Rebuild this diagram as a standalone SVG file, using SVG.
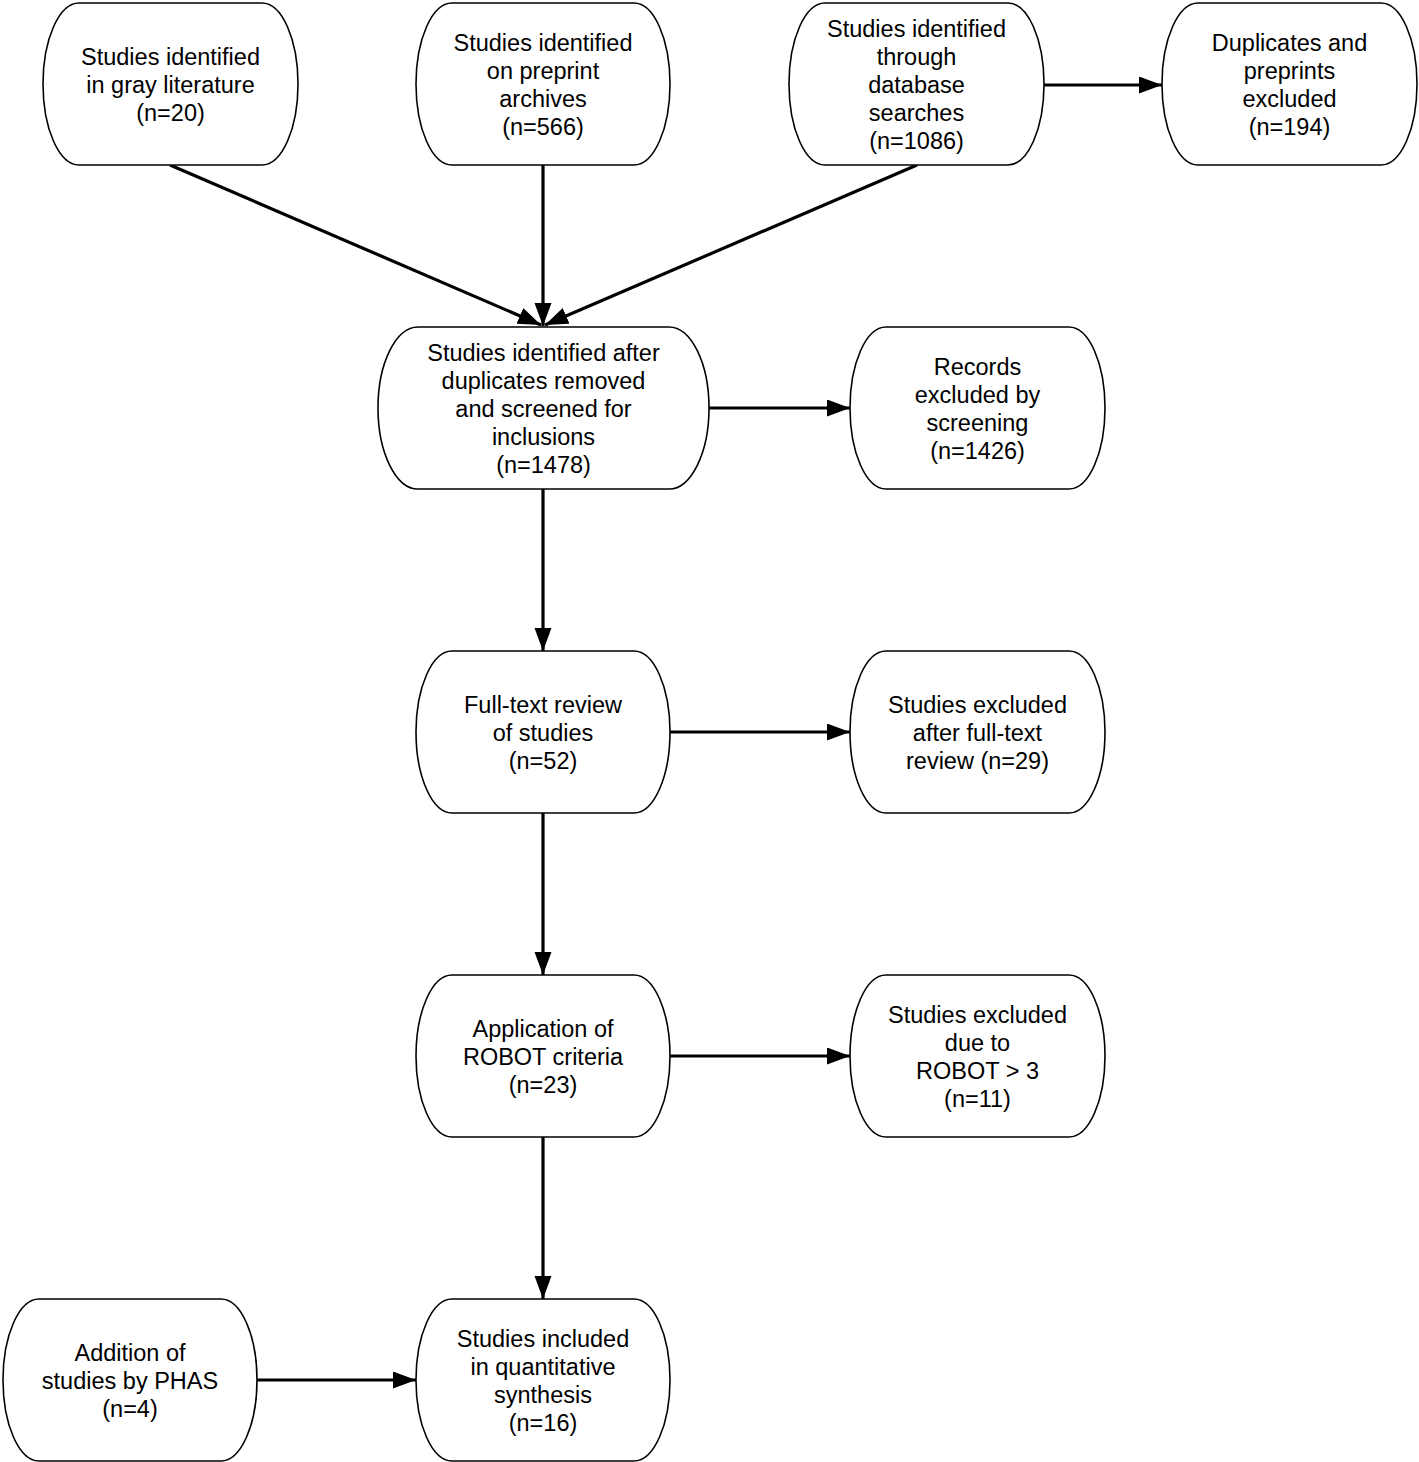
<svg xmlns="http://www.w3.org/2000/svg" width="1419" height="1462" viewBox="0 0 1419 1462">
<style>
.box{fill:#fff;stroke:#000;stroke-width:1.6}
.t{font-family:"Liberation Sans",Arial,Helvetica,sans-serif;font-size:23.5px;fill:#000;text-anchor:middle}
.c{stroke:#000;stroke-width:3.2;fill:none}
</style>
<defs>
<marker id="ah" markerUnits="userSpaceOnUse" markerWidth="24" markerHeight="18" refX="23" refY="8.5" orient="auto">
<path d="M0,0 L23,8.5 L0,17 z" fill="#000"/>
</marker>
</defs>
<rect width="1419" height="1462" fill="#fff"/>
<g id="connectors">
<line class="c" x1="170" y1="165" x2="541" y2="325" marker-end="url(#ah)"/>
<line class="c" x1="543" y1="165" x2="543" y2="326" marker-end="url(#ah)"/>
<line class="c" x1="917" y1="165" x2="545" y2="325" marker-end="url(#ah)"/>
<line class="c" x1="1044" y1="85" x2="1162" y2="85" marker-end="url(#ah)"/>
<line class="c" x1="709" y1="408" x2="850" y2="408" marker-end="url(#ah)"/>
<line class="c" x1="543" y1="489" x2="543" y2="651" marker-end="url(#ah)"/>
<line class="c" x1="670" y1="732" x2="850" y2="732" marker-end="url(#ah)"/>
<line class="c" x1="543" y1="813" x2="543" y2="975" marker-end="url(#ah)"/>
<line class="c" x1="670" y1="1056" x2="850" y2="1056" marker-end="url(#ah)"/>
<line class="c" x1="543" y1="1137" x2="543" y2="1299" marker-end="url(#ah)"/>
<line class="c" x1="257" y1="1380" x2="416" y2="1380" marker-end="url(#ah)"/>
</g>
<g id="n1">
<rect class="box" x="43" y="3" width="255" height="162" rx="36" ry="81"/>
<text class="t" x="170.5" y="65">Studies identified</text>
<text class="t" x="170.5" y="93">in gray literature</text>
<text class="t" x="170.5" y="121">(n=20)</text>
</g>
<g id="n2">
<rect class="box" x="416" y="3" width="254" height="162" rx="36" ry="81"/>
<text class="t" x="543" y="51">Studies identified</text>
<text class="t" x="543" y="79">on preprint</text>
<text class="t" x="543" y="107">archives</text>
<text class="t" x="543" y="135">(n=566)</text>
</g>
<g id="n3">
<rect class="box" x="789" y="3" width="255" height="162" rx="36" ry="81"/>
<text class="t" x="916.5" y="37">Studies identified</text>
<text class="t" x="916.5" y="65">through</text>
<text class="t" x="916.5" y="93">database</text>
<text class="t" x="916.5" y="121">searches</text>
<text class="t" x="916.5" y="149">(n=1086)</text>
</g>
<g id="n4">
<rect class="box" x="1162" y="3" width="255" height="162" rx="36" ry="81"/>
<text class="t" x="1289.5" y="51">Duplicates and</text>
<text class="t" x="1289.5" y="79">preprints</text>
<text class="t" x="1289.5" y="107">excluded</text>
<text class="t" x="1289.5" y="135">(n=194)</text>
</g>
<g id="n5">
<rect class="box" x="378" y="327" width="331" height="162" rx="40" ry="81"/>
<text class="t" x="543.5" y="361">Studies identified after</text>
<text class="t" x="543.5" y="389">duplicates removed</text>
<text class="t" x="543.5" y="417">and screened for</text>
<text class="t" x="543.5" y="445">inclusions</text>
<text class="t" x="543.5" y="473">(n=1478)</text>
</g>
<g id="n6">
<rect class="box" x="850" y="327" width="255" height="162" rx="36" ry="81"/>
<text class="t" x="977.5" y="375">Records</text>
<text class="t" x="977.5" y="403">excluded by</text>
<text class="t" x="977.5" y="431">screening</text>
<text class="t" x="977.5" y="459">(n=1426)</text>
</g>
<g id="n7">
<rect class="box" x="416" y="651" width="254" height="162" rx="36" ry="81"/>
<text class="t" x="543" y="713">Full-text review</text>
<text class="t" x="543" y="741">of studies</text>
<text class="t" x="543" y="769">(n=52)</text>
</g>
<g id="n8">
<rect class="box" x="850" y="651" width="255" height="162" rx="36" ry="81"/>
<text class="t" x="977.5" y="713">Studies excluded</text>
<text class="t" x="977.5" y="741">after full-text</text>
<text class="t" x="977.5" y="769">review (n=29)</text>
</g>
<g id="n9">
<rect class="box" x="416" y="975" width="254" height="162" rx="36" ry="81"/>
<text class="t" x="543" y="1037">Application of</text>
<text class="t" x="543" y="1065">ROBOT criteria</text>
<text class="t" x="543" y="1093">(n=23)</text>
</g>
<g id="n10">
<rect class="box" x="850" y="975" width="255" height="162" rx="36" ry="81"/>
<text class="t" x="977.5" y="1023">Studies excluded</text>
<text class="t" x="977.5" y="1051">due to</text>
<text class="t" x="977.5" y="1079">ROBOT &gt; 3</text>
<text class="t" x="977.5" y="1107">(n=11)</text>
</g>
<g id="n11">
<rect class="box" x="3" y="1299" width="254" height="162" rx="36" ry="81"/>
<text class="t" x="130" y="1361">Addition of</text>
<text class="t" x="130" y="1389">studies by PHAS</text>
<text class="t" x="130" y="1417">(n=4)</text>
</g>
<g id="n12">
<rect class="box" x="416" y="1299" width="254" height="162" rx="36" ry="81"/>
<text class="t" x="543" y="1347">Studies included</text>
<text class="t" x="543" y="1375">in quantitative</text>
<text class="t" x="543" y="1403">synthesis</text>
<text class="t" x="543" y="1431">(n=16)</text>
</g>
</svg>
